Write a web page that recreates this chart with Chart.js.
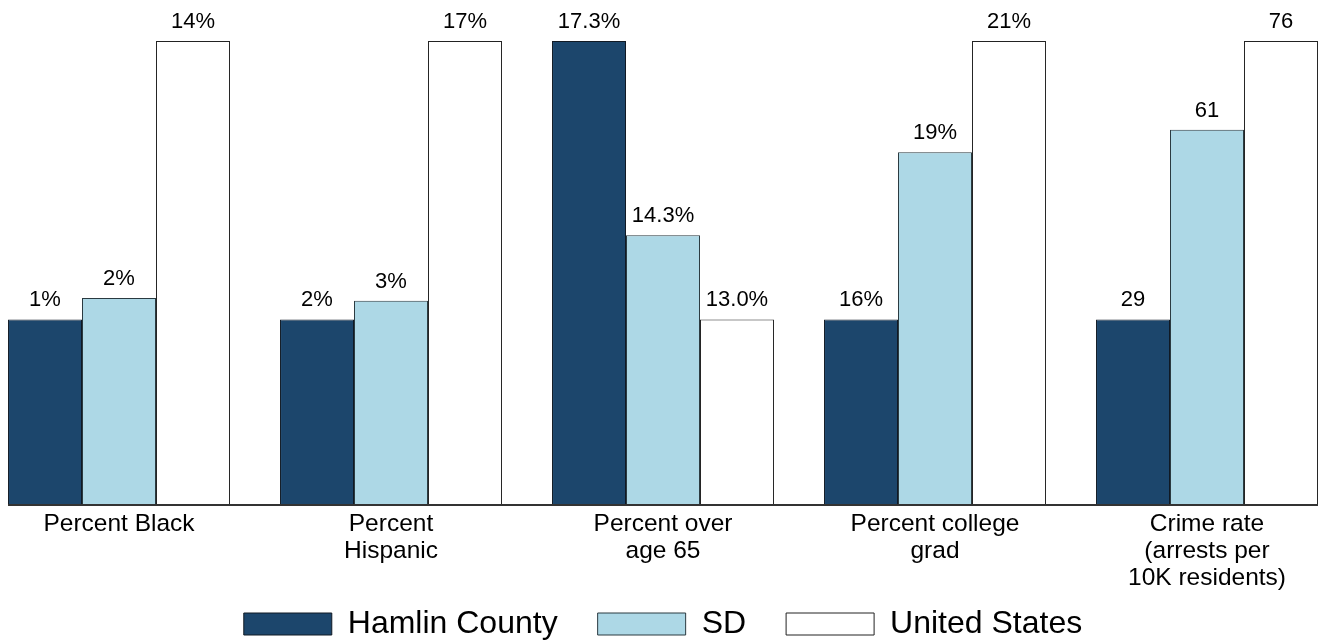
<!DOCTYPE html>
<html>
<head>
<meta charset="utf-8">
<script src="https://cdn.jsdelivr.net/npm/chart.js@4/dist/chart.umd.min.js"></script>
<style>
  html, body { margin: 0; padding: 0; background: #fff; overflow: hidden; width: 1320px; height: 640px; }
  #wrap { position: absolute; left: -17px; top: 0; width: 1360px; height: 650px; }
</style>
</head>
<body>
<div id="wrap"><canvas id="c"></canvas></div>
<script>
// Data
const categories = [["Percent Black"], ["Percent", "Hispanic"], ["Percent over", "age 65"], ["Percent college", "grad"], ["Crime rate", "(arrests per", "10K residents)"]];
const seriesNames = ["Hamlin County", "SD", "United States"];
const hamlin = [1, 2, 17.3, 16, 29];
const sd = [2, 3, 14.3, 19, 61];
const us = [14, 17, 13.0, 21, 76];
const decimals = [0, 0, 1, 0, 0];
const suffixes = ["%", "%", "%", "%", ""];

const raw = [hamlin, sd, us];
// Each category is scaled on its own: lowest value -> 40, highest -> 100
function scaled(series) {
  return series.map((v, i) => {
    const vals = raw.map(s => s[i]);
    const mn = Math.min(...vals), mx = Math.max(...vals);
    return 40 + 60 * (v - mn) / (mx - mn);
  });
}

const colors = ["#1c466c", "#add8e6", "#ffffff"];
const borders = ["#111a24", "#2a3a40", "#222222"];

const valueLabels = {
  id: 'valueLabels',
  afterDatasetsDraw(chart) {
    const ctx = chart.ctx;
    ctx.save();
    ctx.font = '22px "Liberation Sans", Arial, sans-serif';
    ctx.fillStyle = '#000';
    ctx.textAlign = 'center';
    ctx.textBaseline = 'middle';
    chart.data.datasets.forEach((ds, di) => {
      const meta = chart.getDatasetMeta(di);
      meta.data.forEach((bar, i) => {
        const v = raw[di][i];
        const txt = v.toFixed(decimals[i]) + suffixes[i];
        ctx.fillText(txt, bar.x, bar.y - 19);
      });
    });
    ctx.restore();
  }
};

const baseline = {
  id: 'baseline',
  beforeDraw(chart) {
    // let the multi-line category labels extend below the (shortened) axis box
    if (chart.scales.x) chart.scales.x._computeLabelArea = function () { return null; };
  },
  afterDatasetsDraw(chart) {
    const first = chart.getDatasetMeta(0).data[0];
    const lastMeta = chart.getDatasetMeta(chart.data.datasets.length - 1);
    const last = lastMeta.data[lastMeta.data.length - 1];
    const ctx = chart.ctx;
    const y = chart.chartArea.bottom;
    ctx.save();
    ctx.strokeStyle = '#333';
    ctx.lineWidth = 2;
    ctx.beginPath();
    ctx.moveTo(first.x - first.width / 2, y);
    ctx.lineTo(last.x + last.width / 2, y);
    ctx.stroke();
    ctx.restore();
  }
};

new Chart(document.getElementById('c'), {
  type: 'bar',
  data: {
    labels: categories,
    datasets: raw.map((s, k) => ({
      label: seriesNames[k],
      data: scaled(s),
      backgroundColor: colors[k],
      borderColor: borders[k],
      borderWidth: 1,
      categoryPercentage: 0.816,
      barPercentage: 1.0
    }))
  },
  options: {
    responsive: true,
    maintainAspectRatio: false,
    animation: false,
    devicePixelRatio: 1,
    layout: { padding: { top: 41, left: 0, right: 0, bottom: 0 } },
    plugins: {
      tooltip: { enabled: false },
      legend: {
        position: 'bottom',
        labels: {
          boxWidth: 88,
          boxHeight: 22,
          padding: 40,
          color: '#000',
          font: { family: '"Liberation Sans", Arial, sans-serif', size: 32 }
        }
      }
    },
    scales: {
      x: {
        grid: { display: false, drawTicks: false },
        border: { display: false },
        ticks: {
          color: '#000',
          padding: 6,
          maxRotation: 0,
          autoSkip: false,
          font: { family: '"Liberation Sans", Arial, sans-serif', size: 24.5, lineHeight: 1.09 }
        },
        afterFit(scale) { scale.height = 63; }
      },
      y: {
        display: false,
        min: 0,
        max: 100
      }
    }
  },
  plugins: [valueLabels, baseline]
});
</script>
</body>
</html>
